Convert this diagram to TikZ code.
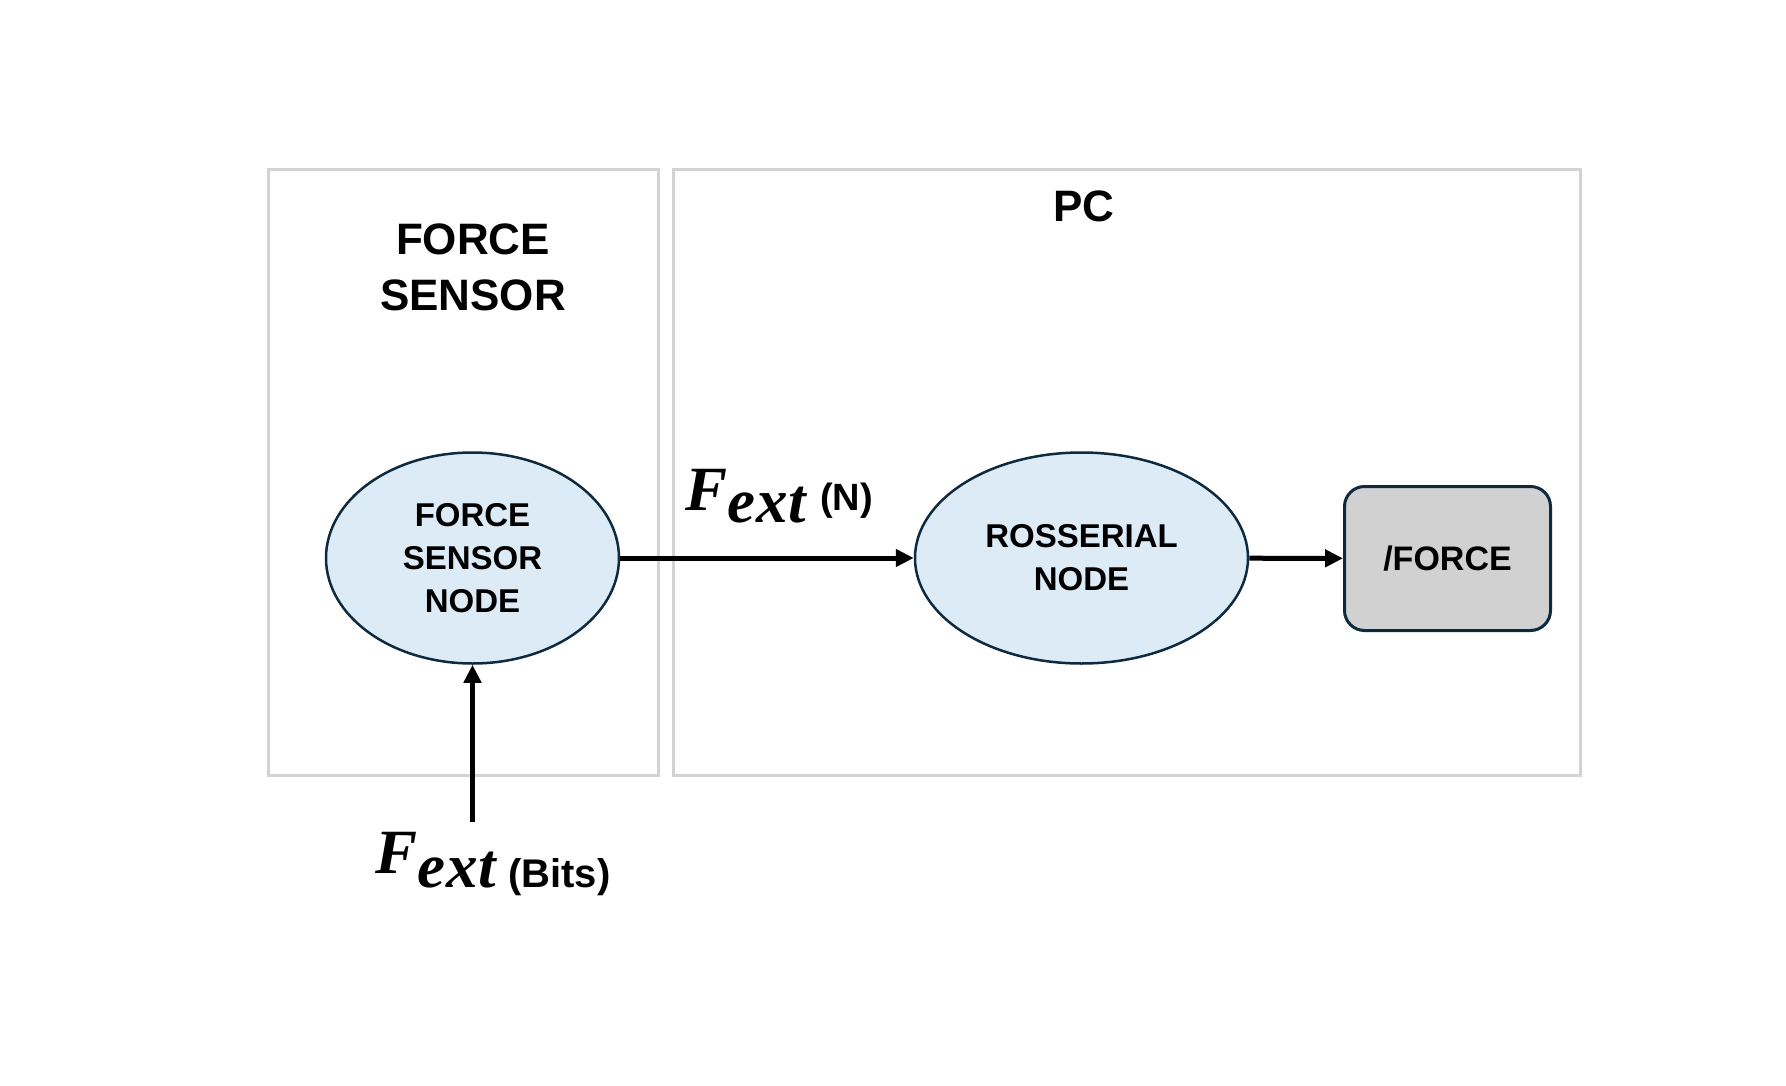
\documentclass[tikz,border=0pt]{standalone}
\usepackage{fontspec}
\setmainfont{Liberation Sans}
\newfontfamily\fextfont{Liberation Serif}
\usetikzlibrary{shapes.geometric,arrows.meta}
\definecolor{boxgray}{HTML}{D3D3D3}
\definecolor{nodeblue}{HTML}{DDEBF7}
\definecolor{navy}{HTML}{0E2A3F}
\definecolor{topicgray}{HTML}{D1D1D1}
\tikzset{
  container/.style={draw=boxgray, line width=3pt, inner sep=0pt},
  rosnode/.style={ellipse, draw=navy, fill=nodeblue, line width=2.5pt, inner sep=0pt,
    align=center, font=\fontsize{33}{43}\selectfont\bfseries},
  topicbox/.style={rectangle, rounded corners=20pt, draw=navy, fill=topicgray, line width=3pt,
    inner sep=0pt, font=\fontsize{34}{43}\selectfont\bfseries},
  title/.style={align=center, font=\fontsize{44}{56}\selectfont\bfseries},
  arr/.style={line width=5pt, -{Triangle[length=18pt,width=17pt]}},
  mlabel/.style={inner sep=0pt, anchor=base west}
}
\newcommand{\myfext}[1]{{\fontsize{63}{70}\selectfont\fextfont\bfseries\itshape F\raisebox{#1}{e\kern1pt x\kern1pt t}}}
\begin{document}
\begin{tikzpicture}[x=1pt,y=-1pt]
\useasboundingbox[fill=white] (0,0) rectangle (1786,1086);
% containers
\node[container, minimum width=390pt, minimum height=605pt] (sensorbox) at (463,472.5) {};
\node[container, minimum width=907pt, minimum height=605pt] (pcbox) at (1126.5,472.5) {};
\node[title] (sensortitle) at (473,267) {FORCE\\SENSOR};
\node[title] (pctitle) at (1084,206) {PC};
% nodes
\node[rosnode, minimum width=293pt, minimum height=211pt] (fsn) at (472.5,558) {FORCE\\SENSOR\\NODE};
\node[rosnode, minimum width=333pt, minimum height=211pt] (rsn) at (1081.5,558) {ROSSERIAL\\NODE};
\node[topicbox, minimum width=206pt, minimum height=144pt] (topic) at (1447.5,558.5) {/FORCE};
% connectors
\coordinate (bitsin) at (472.5,822);
\draw[arr] (fsn) -- (rsn);
\draw[arr] (rsn) -- (topic);
\draw[arr] (bitsin) -- (fsn.south);
% labels
\node[mlabel] (flabN) at (685,510) {\myfext{-12pt}\hspace{14pt}{\fontsize{38}{40}\selectfont\bfseries(N)}};
\node[mlabel] (flabB) at (375,873) {\myfext{-14pt}\raisebox{-14pt}{\hspace{12pt}\fontsize{40}{42}\selectfont\bfseries(Bits)}};
\end{tikzpicture}
\end{document}
